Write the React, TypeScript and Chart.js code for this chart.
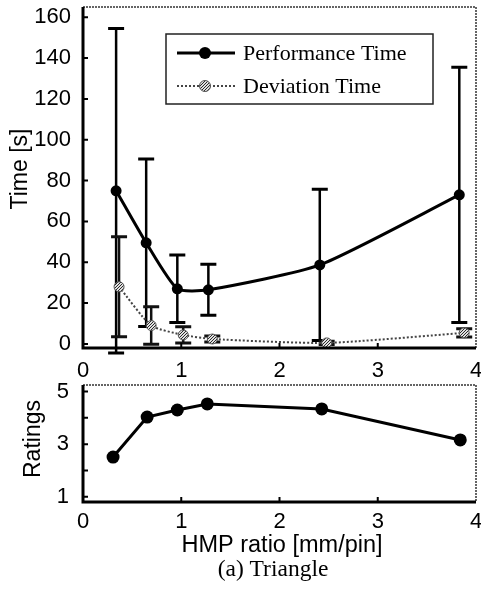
import React, { useEffect, useRef } from 'react';
import { Chart, registerables } from 'chart.js';

Chart.register(...registerables);

// ---- data ----
const perfX = [0.337, 0.643, 0.96, 1.276, 2.41, 3.83];
const perfTime = [75, 49.5, 27, 26.5, 38.7, 73];
const perfErr = [79.5, 41, 16.5, 12.5, 37, 62.5];

const devX = [0.367, 0.694, 1.02, 1.316, 2.48, 3.88];
const devTime = [28, 9, 4.4, 2.4, 0.5, 5.4];
const devErr = [24.5, 9.2, 4, 1.5, 0.8, 2];

const ratingX = [0.306, 0.653, 0.96, 1.265, 2.43, 3.84];
const ratings = [2.51, 4.03, 4.3, 4.53, 4.34, 3.16];

const xTicks = [0, 1, 2, 3, 4];
const timeTicks = [0, 20, 40, 60, 80, 100, 120, 140, 160];
const ratingTicks = [1, 3, 5];
const ratingMinorTicks = [2, 4];
const legendLabels = ['Performance Time', 'Deviation Time'];

const SANS = '"Liberation Sans", Arial, sans-serif';
const SERIF = '"Liberation Serif", "Times New Roman", serif';

function makeStipple(): CanvasPattern | string {
  const c = document.createElement('canvas');
  c.width = 3;
  c.height = 3;
  const g = c.getContext('2d');
  if (!g) return '#999';
  g.fillStyle = '#e0e0e0';
  g.fillRect(0, 0, 3, 3);
  g.fillStyle = '#2a2a2a';
  g.fillRect(0, 0, 1, 1);
  g.fillRect(2, 1, 1, 1);
  g.fillRect(1, 2, 1, 1);
  return g.createPattern(c, 'repeat') || '#999';
}

function drawErrorBars(chart: any, xs: number[], ys: number[], errs: number[], color: string) {
  const { ctx } = chart;
  const x = chart.scales.x;
  const y = chart.scales.y;
  ctx.save();
  ctx.strokeStyle = color;
  for (let i = 0; i < xs.length; i++) {
    const px = x.getPixelForValue(xs[i]);
    const top = y.getPixelForValue(ys[i] + errs[i]);
    const bot = y.getPixelForValue(ys[i] - errs[i]);
    ctx.lineWidth = 2.5;
    ctx.beginPath();
    ctx.moveTo(px, top);
    ctx.lineTo(px, bot);
    ctx.stroke();
    ctx.lineWidth = 3;
    ctx.beginPath();
    ctx.moveTo(px - 8, top);
    ctx.lineTo(px + 8, top);
    ctx.moveTo(px - 8, bot);
    ctx.lineTo(px + 8, bot);
    ctx.stroke();
  }
  ctx.restore();
}

function drawFrame(chart: any, yMarks: number[]) {
  const { ctx, chartArea } = chart;
  const { left, right, top, bottom } = chartArea;
  const x = chart.scales.x;
  const y = chart.scales.y;
  ctx.save();
  ctx.strokeStyle = '#333';
  ctx.lineWidth = 1.5;
  ctx.setLineDash([2, 1]);
  ctx.beginPath();
  ctx.moveTo(left, top);
  ctx.lineTo(right, top);
  ctx.lineTo(right, bottom);
  ctx.stroke();
  ctx.setLineDash([]);
  ctx.strokeStyle = '#000';
  ctx.lineWidth = 3;
  ctx.beginPath();
  ctx.moveTo(left, top);
  ctx.lineTo(left, bottom);
  ctx.lineTo(right, bottom);
  ctx.stroke();
  ctx.lineWidth = 2;
  ctx.beginPath();
  for (const v of yMarks) {
    const py = y.getPixelForValue(v);
    ctx.moveTo(left, py);
    ctx.lineTo(left + 5, py);
  }
  for (const v of xTicks) {
    if (v === 0 || v === 4) continue;
    const px = x.getPixelForValue(v);
    ctx.moveTo(px, bottom);
    ctx.lineTo(px, bottom - 5);
  }
  ctx.stroke();
  ctx.restore();
}

function drawRotated(ctx: CanvasRenderingContext2D, text: string, cx: number, cy: number, font: string) {
  ctx.save();
  ctx.translate(cx, cy);
  ctx.rotate(-Math.PI / 2);
  ctx.font = font;
  ctx.fillStyle = '#000';
  ctx.textAlign = 'center';
  ctx.textBaseline = 'middle';
  ctx.fillText(text, 0, 0);
  ctx.restore();
}

const tickFont = { family: SANS, size: 22 };

const noPadX = (h: number) => (s: any) => {
  s.height = h;
  s.paddingLeft = 0;
  s.paddingRight = 0;
};
const noPadY = (w: number) => (s: any) => {
  s.width = w;
  s.paddingTop = 0;
  s.paddingBottom = 0;
};

export default function App() {
  const topRef = useRef<HTMLCanvasElement>(null);
  const botRef = useRef<HTMLCanvasElement>(null);

  useEffect(() => {
    if (!topRef.current || !botRef.current) return;
    const stipple = makeStipple();

    const topChart = new Chart(topRef.current, {
      type: 'line',
      data: {
        datasets: [
          {
            label: legendLabels[0],
            data: perfX.map((x, i) => ({ x, y: perfTime[i] })),
            borderColor: '#000',
            backgroundColor: '#000',
            borderWidth: 3,
            pointRadius: 5.5,
            pointBackgroundColor: '#000',
            pointBorderWidth: 0,
            tension: 0.2,
            clip: false,
          },
          {
            label: legendLabels[1],
            data: devX.map((x, i) => ({ x, y: devTime[i] })),
            borderColor: '#444',
            borderWidth: 2,
            borderDash: [2, 2],
            pointRadius: 5,
            pointBackgroundColor: stipple as any,
            pointBorderColor: '#555',
            pointBorderWidth: 1,
            tension: 0.2,
            clip: false,
          },
        ],
      },
      options: {
        animation: false,
        responsive: false,
        maintainAspectRatio: false,
        layout: { padding: { left: 0, right: 14, top: 7, bottom: 0 } },
        plugins: { legend: { display: false }, tooltip: { enabled: false } },
        scales: {
          x: {
            type: 'linear',
            min: 0,
            max: 4,
            afterBuildTicks: (s: any) => {
              s.ticks = xTicks.map((v) => ({ value: v }));
            },
            afterFit: noPadX(37),
            grid: { display: false, drawTicks: false },
            border: { display: false },
            ticks: { padding: 10, color: '#000', font: tickFont },
          },
          y: {
            type: 'linear',
            min: -2,
            max: 165,
            afterBuildTicks: (s: any) => {
              s.ticks = timeTicks.map((v) => ({ value: v }));
            },
            afterFit: noPadY(83),
            grid: { display: false, drawTicks: false },
            border: { display: false },
            ticks: { padding: 12, color: '#000', font: tickFont },
          },
        },
      },
      plugins: [
        {
          id: 'topExtras',
          beforeDatasetsDraw(chart: any) {
            drawErrorBars(chart, perfX, perfTime, perfErr, '#000');
            drawErrorBars(chart, devX, devTime, devErr, '#111');
          },
          afterDraw(chart: any) {
            const ctx = chart.ctx as CanvasRenderingContext2D;
            drawFrame(chart, timeTicks);
            drawRotated(ctx, 'Time [s]', 21, 169, `23px ${SANS}`);
            ctx.save();
            ctx.fillStyle = '#fff';
            ctx.fillRect(166, 34, 267, 70);
            ctx.strokeStyle = '#222';
            ctx.lineWidth = 1.5;
            ctx.strokeRect(166, 34, 267, 70);
            ctx.strokeStyle = '#000';
            ctx.lineWidth = 3;
            ctx.beginPath();
            ctx.moveTo(177, 53);
            ctx.lineTo(235, 53);
            ctx.stroke();
            ctx.fillStyle = '#000';
            ctx.beginPath();
            ctx.arc(205, 53, 6, 0, Math.PI * 2);
            ctx.fill();
            ctx.strokeStyle = '#444';
            ctx.lineWidth = 2;
            ctx.setLineDash([2, 2]);
            ctx.beginPath();
            ctx.moveTo(177, 86);
            ctx.lineTo(235, 86);
            ctx.stroke();
            ctx.setLineDash([]);
            ctx.fillStyle = stipple as any;
            ctx.strokeStyle = '#555';
            ctx.lineWidth = 1;
            ctx.beginPath();
            ctx.arc(205, 86, 5.5, 0, Math.PI * 2);
            ctx.fill();
            ctx.stroke();
            ctx.fillStyle = '#000';
            ctx.font = `22px ${SERIF}`;
            ctx.textAlign = 'left';
            ctx.textBaseline = 'middle';
            ctx.fillText(legendLabels[0], 243, 54);
            ctx.fillText(legendLabels[1], 243, 87);
            ctx.restore();
          },
        },
      ],
    } as any);

    const botChart = new Chart(botRef.current, {
      type: 'line',
      data: {
        datasets: [
          {
            label: 'Ratings',
            data: ratingX.map((x, i) => ({ x, y: ratings[i] })),
            borderColor: '#000',
            backgroundColor: '#000',
            borderWidth: 3,
            pointRadius: 6.5,
            pointBackgroundColor: '#000',
            pointBorderWidth: 0,
            tension: 0,
            clip: false,
          },
        ],
      },
      options: {
        animation: false,
        responsive: false,
        maintainAspectRatio: false,
        layout: { padding: { left: 0, right: 14, top: 10, bottom: 0 } },
        plugins: { legend: { display: false }, tooltip: { enabled: false } },
        scales: {
          x: {
            type: 'linear',
            min: 0,
            max: 4,
            afterBuildTicks: (s: any) => {
              s.ticks = xTicks.map((v) => ({ value: v }));
            },
            afterFit: noPadX(88),
            grid: { display: false, drawTicks: false },
            border: { display: false },
            ticks: { padding: 7, color: '#000', font: tickFont },
          },
          y: {
            type: 'linear',
            min: 0.8,
            max: 5.25,
            afterBuildTicks: (s: any) => {
              s.ticks = ratingTicks.map((v) => ({ value: v }));
            },
            afterFit: noPadY(83),
            grid: { display: false, drawTicks: false },
            border: { display: false },
            ticks: { padding: 14, color: '#000', font: tickFont },
          },
        },
      },
      plugins: [
        {
          id: 'botExtras',
          afterDraw(chart: any) {
            const ctx = chart.ctx as CanvasRenderingContext2D;
            drawFrame(chart, [...ratingTicks, ...ratingMinorTicks]);
            drawRotated(ctx, 'Ratings', 34, 64, `23px ${SANS}`);
            ctx.save();
            ctx.fillStyle = '#000';
            ctx.textAlign = 'center';
            ctx.textBaseline = 'middle';
            ctx.font = `23.5px ${SANS}`;
            ctx.fillText('HMP ratio [mm/pin]', 282, 171);
            ctx.font = `23.5px ${SERIF}`;
            ctx.fillText('(a) Triangle', 273, 195);
            ctx.restore();
          },
        },
      ],
    } as any);

    return () => {
      topChart.destroy();
      botChart.destroy();
    };
  }, []);

  return (
    <div
      style={{
        position: 'absolute',
        left: 0,
        top: 0,
        width: 481,
        height: 590,
        overflow: 'hidden',
        background: '#fff',
      }}
    >
      <canvas
        ref={topRef}
        width={490}
        height={385}
        style={{ position: 'absolute', left: 0, top: 0, width: 490, height: 385 }}
      />
      <canvas
        ref={botRef}
        width={490}
        height={215}
        style={{ position: 'absolute', left: 0, top: 375, width: 490, height: 215 }}
      />
    </div>
  );
}
